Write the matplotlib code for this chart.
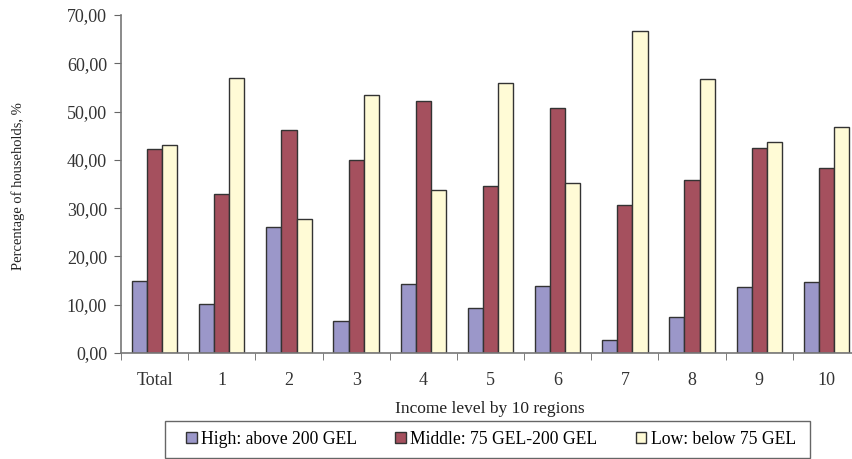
import matplotlib.pyplot as plt
import numpy as np
from matplotlib.patches import Patch, Rectangle

plt.rcParams['font.family'] = ['Liberation Serif', 'DejaVu Serif']

# household shares by income level, per region
regions = ["Total", "1", "2", "3", "4", "5", "6", "7", "8", "9", "10"]
high = [14.9, 10.1, 26.0, 6.6, 14.2, 9.3, 13.9, 2.6, 7.4, 13.7, 14.7]
middle = [42.2, 33.0, 46.2, 39.9, 52.1, 34.6, 50.7, 30.6, 35.8, 42.5, 38.3]
low = [43.0, 56.9, 27.8, 53.5, 33.7, 56.0, 35.2, 66.6, 56.8, 43.7, 46.9]

series = [
    ("High: above 200 GEL", high, "#9b97c9"),
    ("Middle: 75 GEL-200 GEL", middle, "#a5505e"),
    ("Low: below 75 GEL", low, "#fffbd6"),
]

fig = plt.figure(figsize=(8.53, 4.59), dpi=100)
ax = fig.add_axes([121/853, 106/459, 739/853, 338/459])

x = np.arange(len(regions))
width = 0.225
for i, (name, vals, col) in enumerate(series):
    ax.bar(x + (i - 1) * width, vals, width, color=col,
           edgecolor="#333333", linewidth=1.0, label=name)

ax.set_xlim(-0.5, len(regions) - 0.5)
ax.set_ylim(0, 70)
ax.set_yticks(np.arange(0, 71, 10))
ax.set_yticklabels([f"{v:.2f}".replace(".", ",") for v in np.arange(0, 71, 10)])

# category labels centred, tick marks on the group boundaries
ax.set_xticks(x)
ax.set_xticklabels(regions)
ax.set_xticks(np.arange(-0.5, len(regions), 1), minor=True)
ax.tick_params(axis="x", which="major", length=0, pad=14)
ax.tick_params(axis="x", which="minor", length=5, color="#666666", direction="out")
ax.tick_params(axis="y", length=5, color="#666666", direction="out", pad=5)
ax.tick_params(labelsize=13, labelcolor="#333333")

for s in ["top", "right"]:
    ax.spines[s].set_visible(False)
for s in ["left", "bottom"]:
    ax.spines[s].set_color("#777777")
    ax.spines[s].set_linewidth(1.2)

ax.set_ylabel("Percentage of households, %", fontsize=10.5, color="#222222")
ax.yaxis.set_label_coords(-(121 - 25) / 739, (353 - 186) / 338)
ax.set_xlabel("Income level by 10 regions", fontsize=12.5, color="#222222")
ax.xaxis.set_label_coords((490 - 121) / 739, -(401 - 353) / 338)

# legend box spans wider than its entries
fig.patches.append(Rectangle((165/853, 1 - 458/459), 645/853, 37/459,
                             transform=fig.transFigure, facecolor="white",
                             edgecolor="#666666", linewidth=1.0))
handles = [Patch(facecolor=c, edgecolor="#333333", label=n) for n, _, c in series]
fig.legend(handles=handles, loc="center left", ncol=3,
           bbox_to_anchor=(170/853, 1 - 439/459), fontsize=12.7,
           frameon=False, handlelength=0.62, handleheight=0.62,
           handletextpad=0.25, columnspacing=2.15)

fig.savefig("out.png", dpi=100)
